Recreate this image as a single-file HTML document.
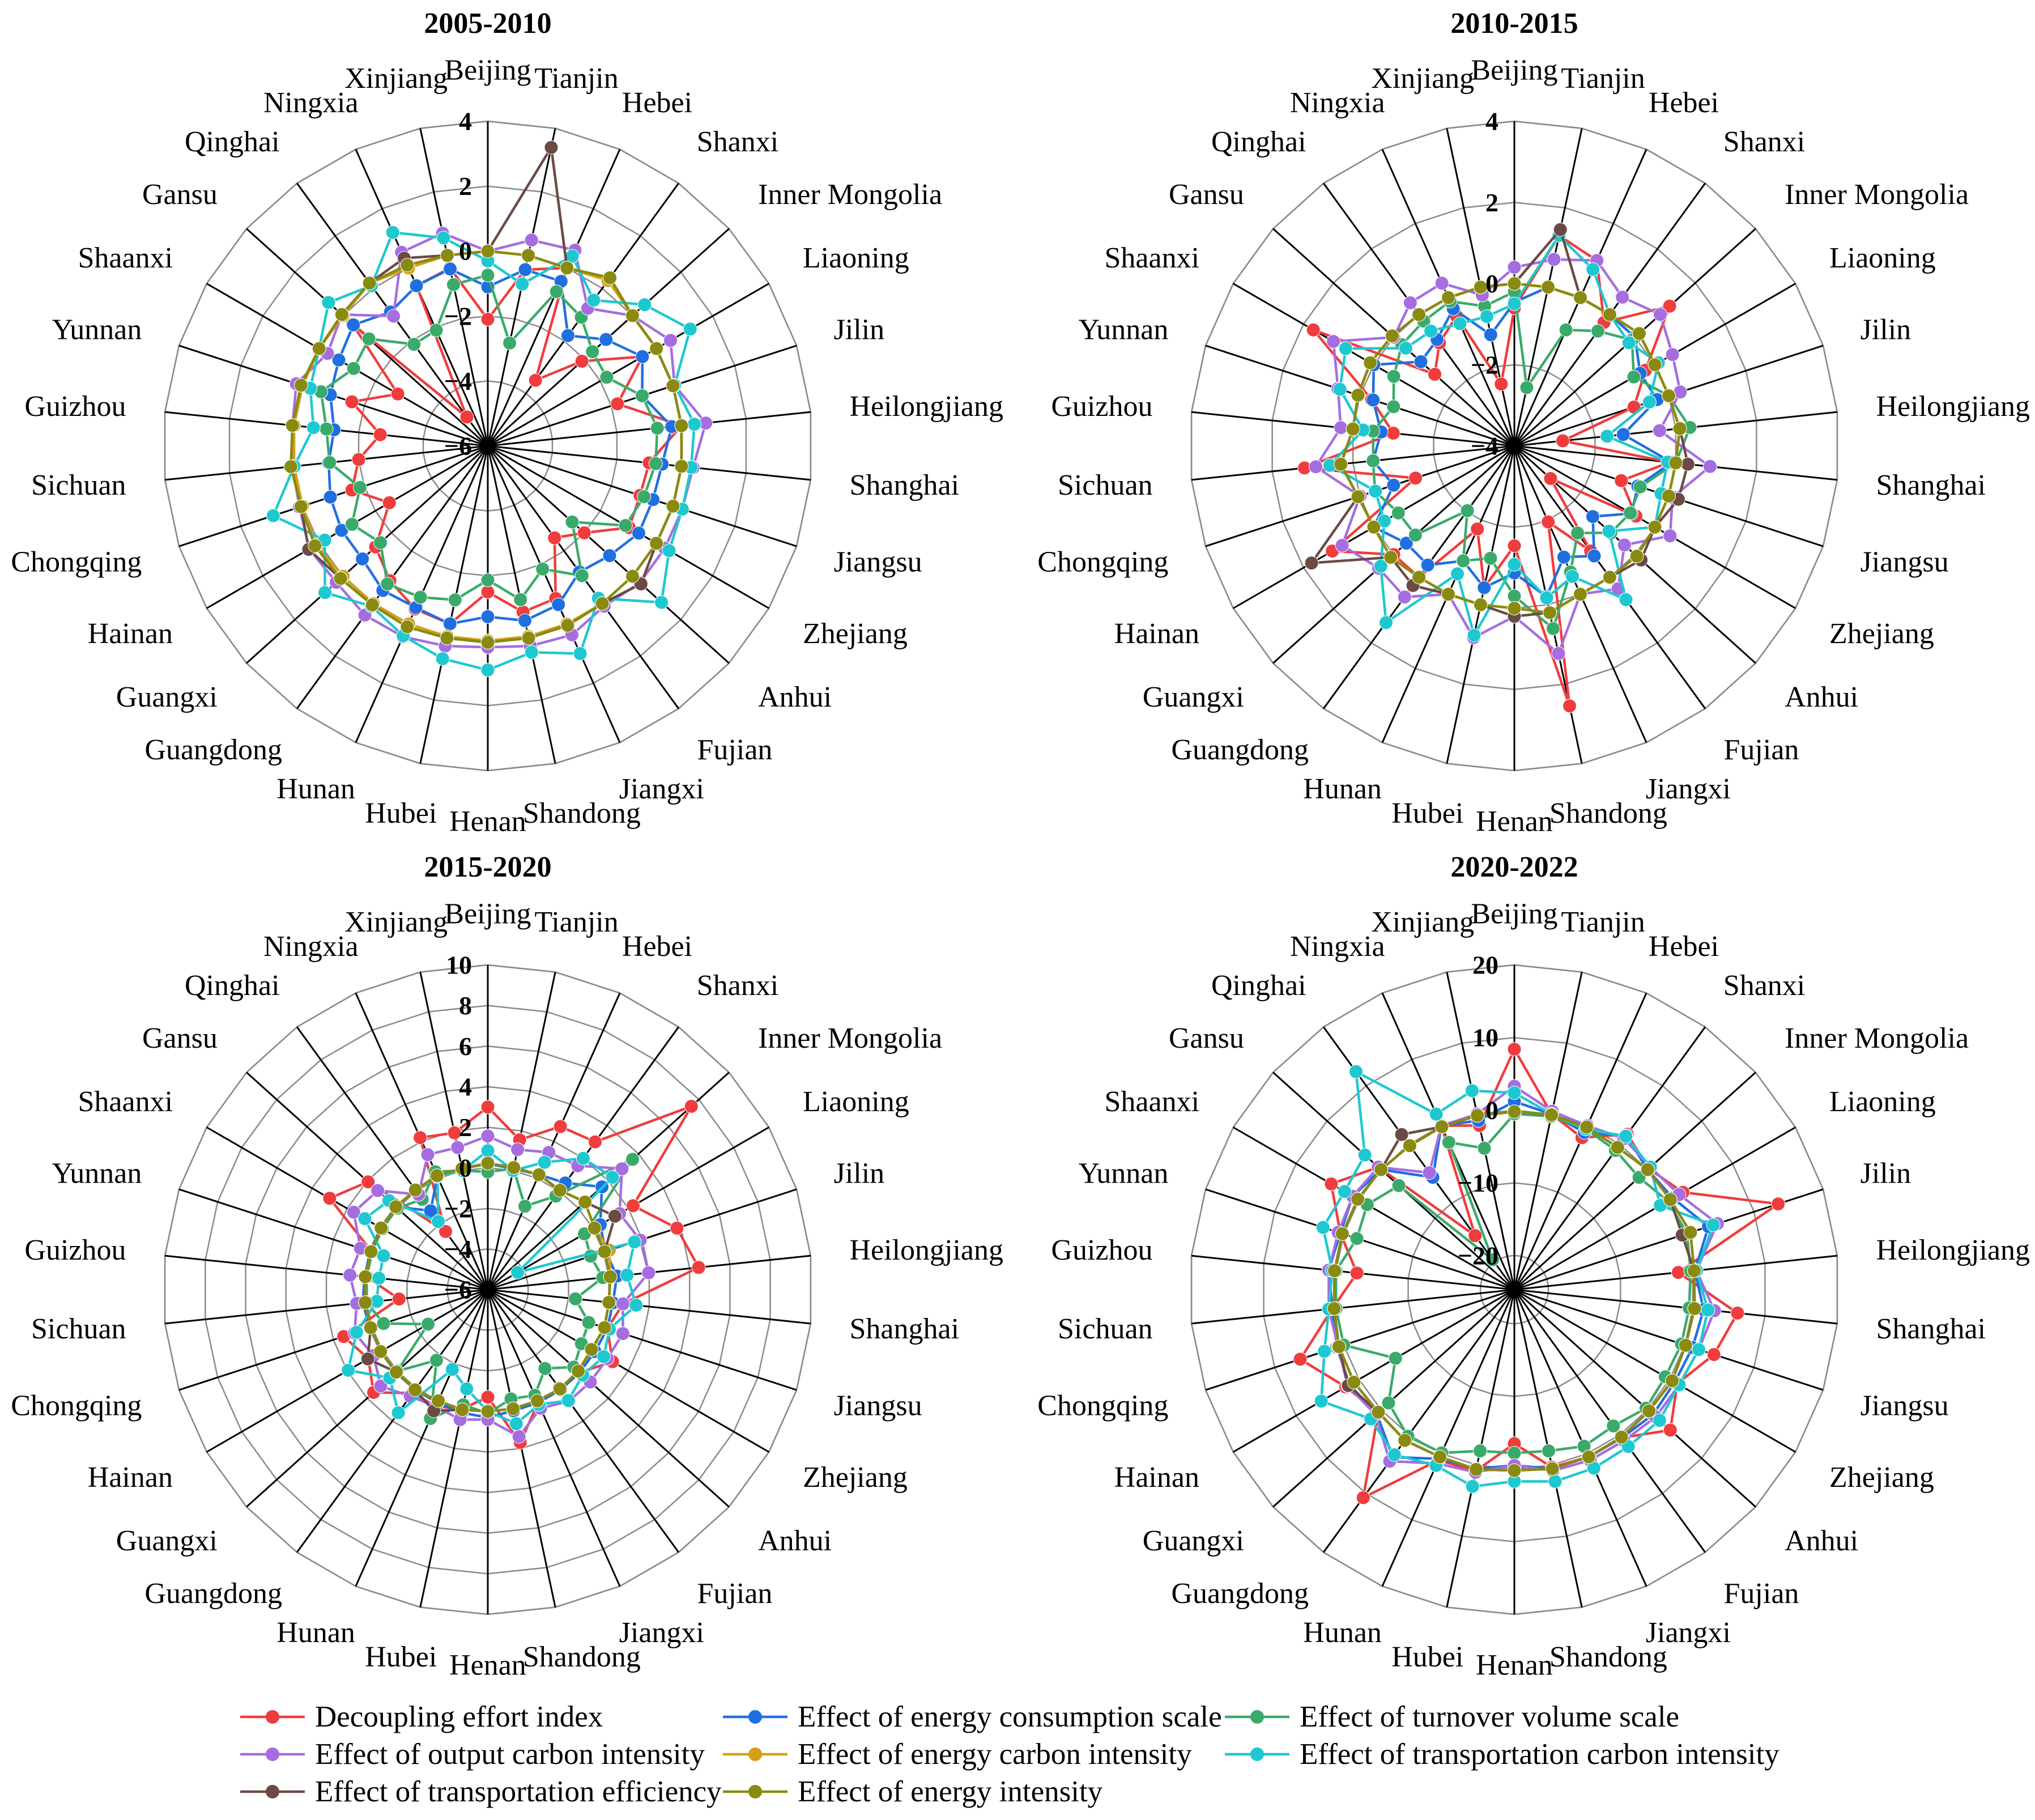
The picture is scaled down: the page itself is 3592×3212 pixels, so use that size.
<!DOCTYPE html>
<html><head><meta charset="utf-8"><style>html,body{margin:0;padding:0;background:#fff}svg{display:block}text{font-family:"Liberation Serif",serif}</style></head>
<body>
<svg id="root" width="3592" height="3212" viewBox="0 0 3592 3212" xmlns="http://www.w3.org/2000/svg">
<rect width="3592" height="3212" fill="#fff"/>
<g id="charts"></g>
<g id="legend"></g>
</svg>
<script>
const provinces = ["Beijing","Tianjin","Hebei","Shanxi","Inner Mongolia","Liaoning","Jilin","Heilongjiang","Shanghai","Jiangsu","Zhejiang","Anhui","Fujian","Jiangxi","Shandong","Henan","Hubei","Hunan","Guangdong","Guangxi","Hainan","Chongqing","Sichuan","Guizhou","Yunnan","Shaanxi","Gansu","Qinghai","Ningxia","Xinjiang"];
const seriesNames = ["Decoupling effort index","Effect of energy consumption scale","Effect of turnover volume scale","Effect of output carbon intensity","Effect of energy carbon intensity","Effect of transportation carbon intensity","Effect of transportation efficiency","Effect of energy intensity"];
const seriesColors = ["#f03c3c","#1f6fe0","#3aaa6a","#a56de0","#d4a017","#1ec8d0","#6b4a45","#8a8a10"];
const panelTitles = ["2005-2010","2010-2015","2015-2020","2020-2022"];
const ticks1 = [4,2,0,-2,-4,-6];
const ticks2 = [4,2,0,-2,-4];
const ticks3 = [10,8,6,4,2,0,-2,-4,-6];
const ticks4 = [20,10,0,-10,-20];

// 2005-2010
const p1_decoupling = [-2.1,-0.45,0,-3.5,-2.1,-0.5,-1.8,0,-1,-1.07,-0.97,-2,-2.5,-0.86,-0.77,-1.5,-0.4,-0.5,-0.87,-1.35,-2.5,-1.6,-2,-2.67,-1.6,-2.8,-0.4,-4.9,-0.6,-0.4];
const p1_consumption = [-1.1,-0.45,-0.45,-1.8,-1.1,-0.5,-1,-0.3,-0.6,-0.65,-0.63,-0.95,-1.2,-0.65,-0.5,-0.74,-0.4,-0.55,-0.5,-0.8,-0.8,-0.9,-1.07,-1.24,-0.9,-0.7,-0.43,-0.9,-0.6,-0.43];
const p1_turnover = [-0.74,-2.76,-0.8,-1.1,-1.66,-1.77,-1,-0.75,-0.8,-0.94,-1.1,-2.5,-1.06,-1.85,-1.16,-1.87,-1.15,-0.9,-0.74,-1.55,-1.17,-1.86,-1.1,-1.0,-0.6,-1.23,-1.07,-2.13,-2.1,-0.92];
const p1_output = [0,0.48,0.6,-0.76,0,0.5,0.05,0.75,0.36,0.3,0.3,0.3,0.1,0.37,0.3,0.2,0.3,0.43,0.44,0.28,0.35,0.1,0.05,0.05,0.2,-0.3,0.05,-1.06,0.53,0.7];
const p1_energyCarbon = [0,0,0,0.3,0,0,0,0,0,0,0,0,0,0,0,0,0,0,0,0,0.1,0,0,0,0,0,0,0.2,0,0];
const p1_transCarbon = [-0.3,-0.9,0.4,-0.45,0.5,1.2,0.05,0.4,0.3,0.3,0.45,1.2,-0.2,1.0,0.5,0.9,0.7,0.4,0.1,0.75,-0.2,0.95,0,-0.6,-0.25,0,0.6,0.1,1.2,0.55];
const p1_efficiency = [0,3.4,0,0.4,0,0,0,0,0,0,0,0.35,0,0.05,0.05,0.05,0.05,0.1,0.05,0.1,0.37,0.05,0.1,0.05,0.05,0,0.05,0.2,0.33,0];
const p1_intensity = [0,0,0,0.4,0,0,0,0,0,0,0,0,0,0.05,0.05,0.05,0.05,0.1,0.05,0.1,0.15,0.05,0.1,0.05,0.05,0,0.05,0.2,0.1,0];

// 2010-2015
const p2_decoupling = [-0.6,1.3,1.0,-0.24,1.15,-0.27,-0.9,-2.8,-0.15,-1.23,-0.54,-2.8,-0.8,-1.95,2.55,-1.54,-0.43,-1.76,0,0,1.18,-1.44,1.2,-1.0,-0.3,1.72,-1.36,-0.86,-0.5,-2.44];
const p2_consumption = [-0.46,0,0,0,0,-0.42,-0.3,-1.3,-0.1,-0.8,-0.67,-1.4,-0.65,-1,-0.2,-0.87,-0.43,-0.9,-0.37,-0.42,0,-0.87,-0.5,-0.7,-0.34,0,-0.9,-0.76,-0.3,-1.2];
const p2_turnover = [-0.2,-2.53,-0.87,-0.5,-0.1,-0.6,0,0.35,0,-0.74,-0.7,-0.8,-1.35,-0.6,0.6,-0.3,-1.17,-0.9,-2.03,-0.72,-0.7,-0.39,-0.5,-0.5,-0.87,-0.57,-0.27,-0.2,-0.1,-0.48];
const p2_output = [0.4,0.7,1.0,0.53,0.84,0.5,0.3,-0.4,0.85,0.1,0.43,-0.35,0.35,0,1.23,0.2,0.83,0,0.6,0.5,0.9,0,0.92,0.3,0.57,1.15,0,0.36,0.39,-0.2];
const p2_energyCarbon = [0,0,0,0,0.14,0,0,0.1,0,0,0,0.06,0,0,0.2,0,0,0,0,0.1,0,0.05,0.3,0,0.05,0.1,0.05,0,0,0];
const p2_transCarbon = [-0.5,1.3,0.76,0,-0.2,0.1,-0.5,-1.7,-0.2,-0.2,0,-0.86,0.68,-0.48,-0.17,-1.08,0.77,-0.55,1.38,0.43,-0.3,-0.4,0.57,-0.25,0.52,0.8,-0.4,-0.5,-0.7,-0.74];
const p2_efficiency = [0,1.45,0,0,0.14,0,0,0.1,0.3,0.25,0,0.2,0,0,0.2,0.2,0,0,0.25,0.1,1.77,0.05,0.3,0,0.05,0.1,0.05,0,0,0];
const p2_intensity = [0,0,0,0,0.14,0,0,0.1,0,0,0,0.06,0,0,0.2,0,0,0,0,0.1,0,0.05,0.3,0,0.05,0.1,0.05,0,0,0];

// 2015-2020
const p3_decoupling = [3.0,1.55,2.8,3.0,7.5,2.27,3.8,4.45,0.7,0.2,1.1,0.1,0,0.1,1.7,-0.7,0,0.3,0.3,1.57,0.8,1.47,-1.6,0,0,3.0,1.94,-2.46,2.2,1.9];
const p3_consumption = [0.2,0.1,0.2,0.5,1.57,0.4,0.1,0.4,0.2,0.2,0.1,0.1,0.1,0.1,0.1,0.3,0.2,0.1,0.1,0.1,0.1,0.1,0.2,0.1,0.1,0.1,0.1,-1.2,0.1,0.1];
const p3_turnover = [-0.2,0.1,-1.5,-0.3,3.6,-0.5,-0.67,-0.3,-1.66,-0.77,-0.67,-0.3,-1.2,-0.3,-0.5,0.1,-0.2,0.95,-1.7,0,-2.6,-0.6,0,0,0,0,0,-0.5,0.36,0];
const p3_output = [1.57,1.06,1.4,1.55,2.9,1.5,1.9,1.97,0.7,1.0,0.8,0.8,0.8,0.4,1.4,0.4,0.55,0.3,0.5,1.1,0.5,0.9,0.5,0.83,0.6,1.63,1.3,-0.2,1.28,1.16];
const p3_energyCarbon = [0.23,0.15,0.2,0.05,0.45,0.07,0.3,0.07,0,0.05,-0.1,0,0.05,0,0,0,0.05,0,0.1,0.07,0.1,0.07,0.07,0.07,0.05,0.07,0.1,0.07,0.15,0.1];
const p3_transCarbon = [0.85,0,0.87,2.0,2.27,-4.3,1.6,0.9,1.35,0.3,0.6,0.3,0.75,0.2,0.75,0,-1.0,-1.7,1.5,0.5,1.94,0.8,-0.5,-0.6,-0.6,1.0,0.56,-1.85,0.1,0];
const p3_efficiency = [0.23,0.15,0.2,0.05,0.45,1.24,0.05,0.07,0,0.05,-0.1,0,0.05,0,0,0,0.05,0.54,0.1,0.07,0.83,0.07,0.07,0.07,0.05,0.07,0.1,0.07,0.15,0.1];
const p3_intensity = [0.23,0.15,0.2,0.05,0.45,0.07,0.05,0.07,0,0.05,-0.1,0,0.05,0,0,0,0.05,0,0.1,0.07,0.1,0.07,0.07,0.07,0.05,0.07,0.1,0.07,0.15,0.1];

// 2020-2022
const p4_decoupling = [8.4,0,-1.8,1.75,0.2,2.1,13.5,-2.0,6.2,4.2,1.2,4.2,0.5,0.5,0.3,-3.5,0.8,1.0,10.7,0.5,2.1,6.3,0.5,-2.9,0.5,4.4,0.5,-15.5,0,-1.6];
const p4_consumption = [1.2,0,-1.0,1.5,0,0.5,3.4,0.3,1.5,1.1,0.8,1.0,0.5,0.5,0.5,-0.5,0.5,0.8,3.8,0.8,1.5,1.0,0.5,1.0,0.5,1.0,0,-5.6,0,-0.9];
const p4_turnover = [-0.5,-0.3,-0.5,-1.0,-1.6,-0.3,0.3,-0.3,-0.5,-0.5,-0.7,-0.3,-1.5,-1.1,-2.0,-2.2,-2.0,-0.1,0.25,-1.4,-5.8,0,0,0,-1.9,-1.3,-3.3,-19.6,-2.5,-4.8];
const p4_output = [3.3,0.4,0,1.0,0.5,1.5,4.7,0.5,3.0,2.0,1.5,1.5,1.0,1.0,0.8,-0.5,1.0,1.5,4.5,1.0,1.8,0.8,1.0,1.0,0.8,1.0,0.5,-4.8,0,0];
const p4_energyCarbon = [-0.2,-0.1,-0.2,-0.5,0,0.1,0.8,0.2,0.25,0.1,0.4,0.25,0.4,0.5,0.5,0.2,0.6,0.5,0.95,0.5,0.8,0.7,0.25,0.2,0.2,0.2,0,-0.2,-0.15,-0.2];
const p4_transCarbon = [2.4,0,-0.5,1.4,0.5,-1.5,4.1,0.5,2.1,2.0,1.5,2.2,2.0,2.2,2.3,1.7,3.0,1.8,3.4,1.9,6.0,2.8,1.0,0.5,3.0,2.3,3.0,12.4,1.75,3.3];
const p4_efficiency = [-0.2,-0.1,-0.2,-0.5,0,0.1,-0.4,0.2,0.25,0.1,0.4,0.25,0.4,0.5,0.5,0.2,0.6,0.5,0.95,0.5,1.7,0.7,0.25,0.2,0.2,0.2,0,1.7,-0.15,-0.2];
const p4_intensity = [-0.2,-0.1,-0.2,-0.5,0,0.1,0.8,0.2,0.25,0.1,0.4,0.25,0.4,0.5,0.5,0.2,0.6,0.5,0.95,0.5,0.8,0.7,0.25,0.2,0.2,0.2,0,-0.2,-0.15,-0.2];

const NS = "http://www.w3.org/2000/svg";
const R = 573;
const panels = [
  {cx:861, cy:787, min:-6, max:4, ticks:ticks1, title:panelTitles[0], series:[p1_decoupling,p1_consumption,p1_turnover,p1_output,p1_energyCarbon,p1_transCarbon,p1_efficiency,p1_intensity]},
  {cx:2673, cy:787, min:-4, max:4, ticks:ticks2, title:panelTitles[1], series:[p2_decoupling,p2_consumption,p2_turnover,p2_output,p2_energyCarbon,p2_transCarbon,p2_efficiency,p2_intensity]},
  {cx:861, cy:2276, min:-6, max:10, ticks:ticks3, title:panelTitles[2], series:[p3_decoupling,p3_consumption,p3_turnover,p3_output,p3_energyCarbon,p3_transCarbon,p3_efficiency,p3_intensity]},
  {cx:2673, cy:2276, min:-24.7, max:20, ticks:ticks4, title:panelTitles[3], series:[p4_decoupling,p4_consumption,p4_turnover,p4_output,p4_energyCarbon,p4_transCarbon,p4_efficiency,p4_intensity]}
];
function mk(tag, attrs, parent){const e=document.createElementNS(NS,tag);for(const k in attrs)e.setAttribute(k,attrs[k]);parent.appendChild(e);return e;}
function ang(i){return i*2*Math.PI/provinces.length;}
function rad(p,v){return (v-p.min)/(p.max-p.min)*R;}
function pt(p,i,r){const a=ang(i);return [p.cx+r*Math.sin(a), p.cy-r*Math.cos(a)];}
const charts=document.getElementById('charts');
panels.forEach((p,pi)=>{
  const g=mk('g',{},charts);
  
  
  const title=mk('text',{x:p.cx,y:p.cy-729,'text-anchor':'middle','font-size':52,'font-weight':'bold'},g);
  title.textContent=p.title;
  
  
  const ringVals=p.ticks.filter(t=>t>p.min+1e-9).concat([p.max]);
  ringVals.forEach(v=>{
    const r=rad(p,v);
    let d='';
    for(let i=0;i<provinces.length;i++){const q=pt(p,i,r);d+=(i?'L':'M')+q[0].toFixed(1)+','+q[1].toFixed(1);}
    const ring=mk('path',{d:d+'Z',fill:'none',stroke:'#8a8a8a','stroke-width':2.5},g);
    
    
  });
  for(let i=0;i<provinces.length;i++){
    const q=pt(p,i,R);
    const sp=mk('line',{x1:p.cx,y1:p.cy,x2:q[0],y2:q[1],stroke:'#000','stroke-width':3},g);
    
    
  }
  provinces.forEach((name,i)=>{
    const a=ang(i);const q=pt(p,i,642);
    const t=mk('text',{x:q[0],y:q[1]-21*Math.cos(a),'font-size':52,'dominant-baseline':'central'},g);
    t.textContent=name;
    
    
    const w=t.getComputedTextLength();
    const s=Math.sin(a);
    const f=0.5-0.5*Math.sign(s)*Math.min(1,Math.abs(s)*1.5);
    t.setAttribute('x',(q[0]-w*f).toFixed(1));
  });
  p.series.forEach((vals,si)=>{
    const sg=mk('g',{},g);
    
    
    let d='';
    vals.forEach((v,i)=>{const q=pt(p,i,rad(p,v));d+=(i?'L':'M')+q[0].toFixed(1)+','+q[1].toFixed(1);});
    const ln=mk('path',{d:d+'Z',fill:'none',stroke:seriesColors[si],'stroke-width':4.5,'stroke-linejoin':'round'},sg);
    
    
    vals.forEach((v,i)=>{
      const q=pt(p,i,rad(p,v));
      const c=mk('circle',{cx:q[0].toFixed(1),cy:q[1].toFixed(1),r:12,fill:seriesColors[si],stroke:'#fff','stroke-width':1},sg);
      
      
    });
  });
  p.ticks.forEach(v=>{
    const r=rad(p,v);
    const t=mk('text',{x:p.cx-28,y:p.cy-r,'text-anchor':'end','dominant-baseline':'central','font-size':46,'font-weight':'bold'},g);
    t.textContent=v<0?'\u2212'+(-v):String(v);
    
    
  });
});
const legend=document.getElementById('legend');
const legCols=[424,1276,2162];const legRows=[3030,3096,3162];
seriesNames.forEach((n,si)=>{
  const col=si%3,row=Math.floor(si/3);
  const x=legCols[col],y=legRows[row];
  const eg=mk('g',{},legend);
  
  
  mk('line',{x1:x,y1:y,x2:x+114,y2:y,stroke:seriesColors[si],'stroke-width':4.5},eg);
  mk('circle',{cx:x+57,cy:y,r:12,fill:seriesColors[si]},eg);
  const t=mk('text',{x:x+132,y:y,'dominant-baseline':'central','font-size':53},eg);
  t.textContent=n;
});
</script>
</body></html>
